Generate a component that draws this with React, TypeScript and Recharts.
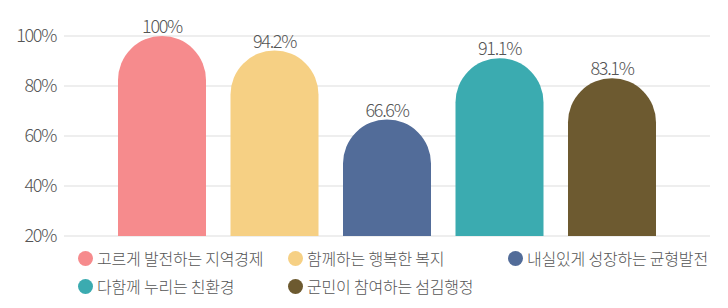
import { Bar, BarChart, CartesianGrid, LabelList, XAxis, YAxis } from "recharts";

const SERIES = [
  "고르게 발전하는 지역경제",
  "함께하는 행복한 복지",
  "내실있게 성장하는 균형발전",
  "다함께 누리는 친환경",
  "군민이 참여하는 섬김행정",
];
const VALUES = [100, 94.2, 66.6, 91.1, 83.1];
const COLORS = ["#F68B8D", "#F6D084", "#526C99", "#3BABB0", "#6D5A30"];
const Y_TICKS = [20, 40, 60, 80, 100];

const FONT = '"Noto Sans CJK KR", "Noto Sans", sans-serif';
const TEXT = "#555";
const NUM_STYLE = { fontSize: 18, fill: TEXT, fontFamily: FONT, fontWeight: 300, letterSpacing: -1.3 };

const row: Record<string, number | string> = { name: "" };
SERIES.forEach((_, i) => {
  row[`s${i}`] = VALUES[i];
});
const data = [row];

// legend slots (left of circle, top row / bottom row)
const LEGEND_POS = [
  { left: 78, top: 250 },
  { left: 288, top: 250 },
  { left: 508, top: 250 },
  { left: 78, top: 278 },
  { left: 288, top: 278 },
];

function ChartLegend() {
  return (
    <>
      {SERIES.map((name, i) => (
        <div
          key={name}
          style={{
            position: "absolute",
            left: LEGEND_POS[i].left,
            top: LEGEND_POS[i].top,
            height: 16,
            display: "flex",
            alignItems: "center",
            whiteSpace: "nowrap",
            fontFamily: FONT,
            fontSize: 16,
            fontWeight: 300,
            letterSpacing: -0.2,
            color: TEXT,
          }}
        >
          <span
            style={{
              display: "inline-block",
              width: 15,
              height: 15,
              borderRadius: "50%",
              background: COLORS[i],
              marginRight: 4,
            }}
          />
          {name}
        </div>
      ))}
    </>
  );
}

export default function App() {
  return (
    <div style={{ position: "absolute", left: 0, top: 0, width: 728, height: 308, background: "#fff" }}>
      <BarChart
        width={728}
        height={308}
        data={data}
        margin={{ top: 36, right: 18, bottom: 72, left: 0 }}
        barSize={88}
        barGap={24.5}
      >
        <CartesianGrid vertical={false} stroke="#dddddd" />
        <XAxis
          dataKey="name"
          tick={false}
          tickLine={false}
          height={0}
          axisLine={{ stroke: "#777" }}
        />
        <YAxis
          width={64}
          domain={[20, 100]}
          ticks={Y_TICKS}
          axisLine={false}
          tickLine={false}
          tick={NUM_STYLE}
          tickFormatter={(v) => `${v}%`}
        />
        {SERIES.map((name, i) => (
          <Bar
            key={name}
            dataKey={`s${i}`}
            name={name}
            fill={COLORS[i]}
            radius={[44, 44, 0, 0]}
            isAnimationActive={false}
          >
            <LabelList
              dataKey={`s${i}`}
              position="top"
              offset={3}
              formatter={(v: number) => `${v}%`}
              style={NUM_STYLE}
            />
          </Bar>
        ))}
      </BarChart>
      <ChartLegend />
    </div>
  );
}
